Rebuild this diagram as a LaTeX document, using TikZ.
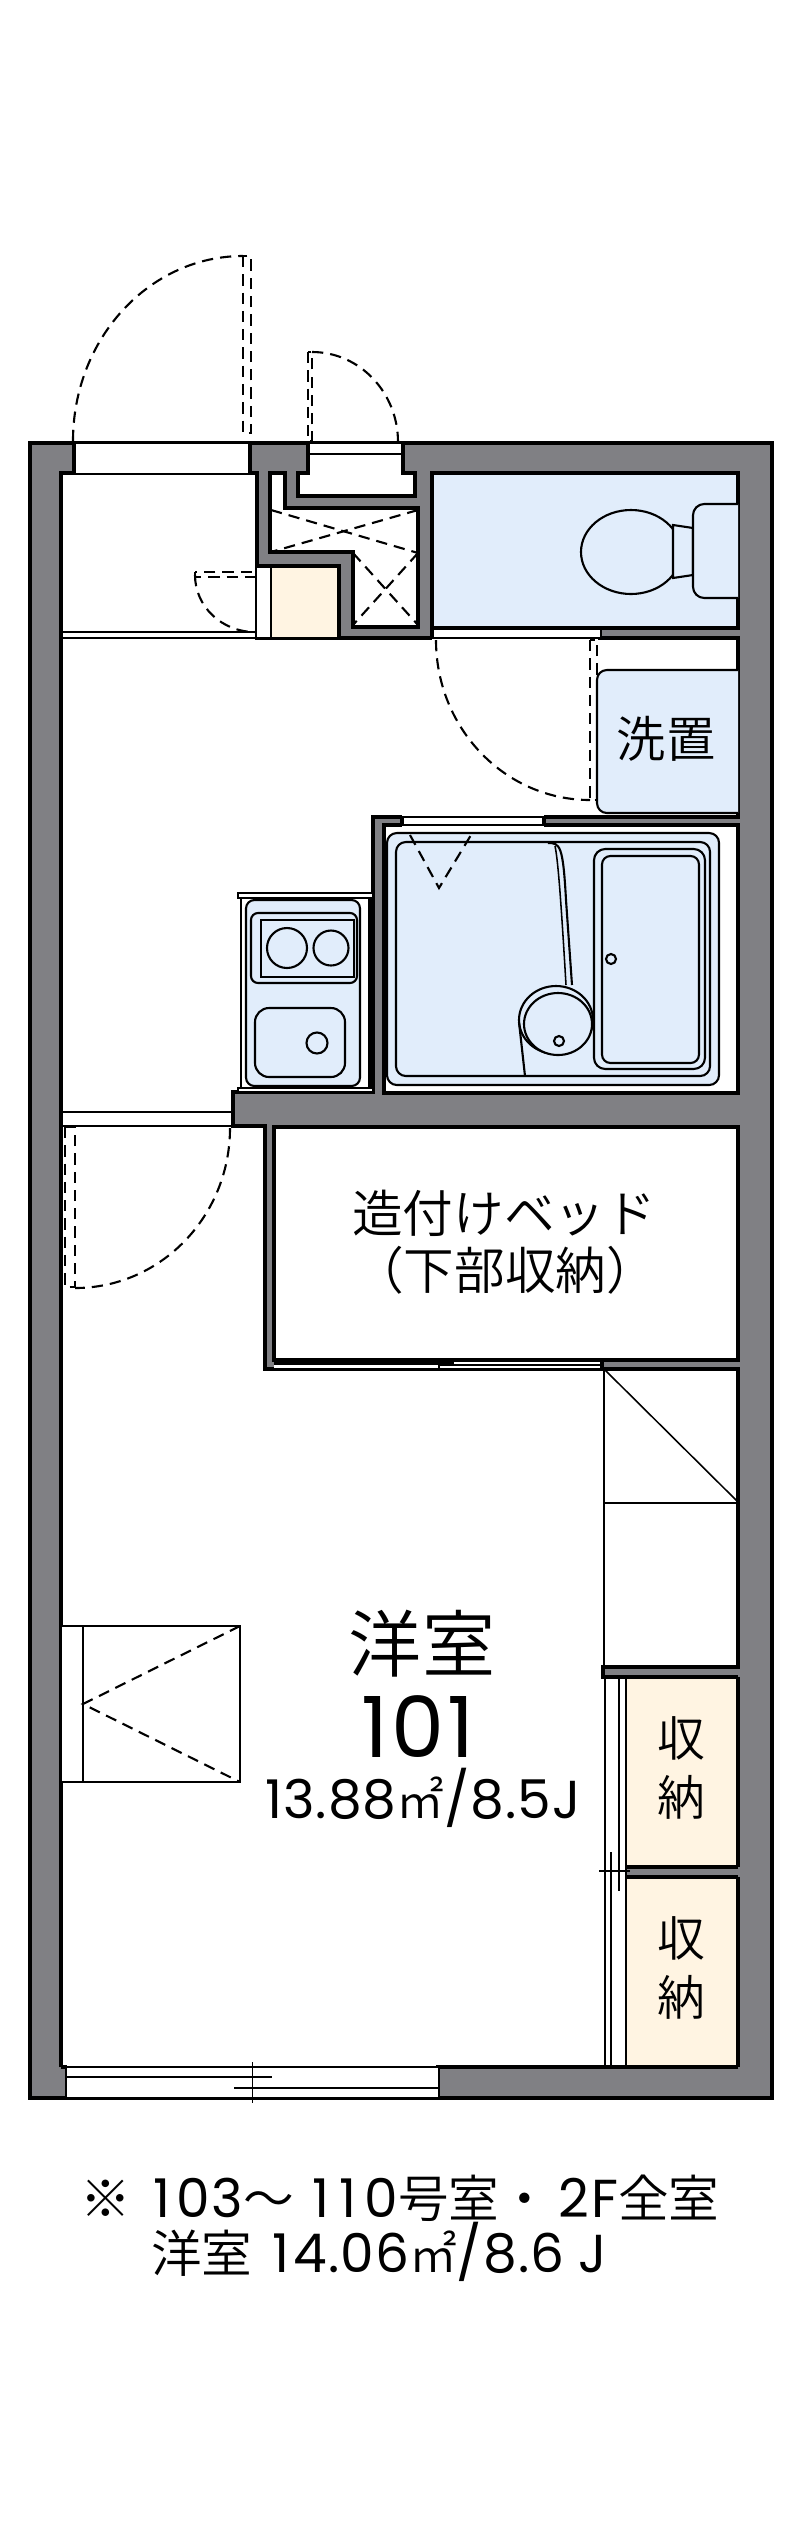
\documentclass[tikz,border=0pt]{standalone}
\usepackage{fontspec}
\setmainfont{Poppins}[LetterSpace=4]
\newfontfamily\cjk{Noto Sans CJK JP DemiLight}
\usepackage{tikz}

\definecolor{wallgray}{RGB}{128,128,132}
\definecolor{wetblue}{RGB}{225,237,251}
\definecolor{storecream}{RGB}{255,244,226}

\newcommand{\notecjk}[1]{{\cjk\fontsize{36}{40}\selectfont #1}}
\newcommand{\sqmeter}{{\cjk\fontsize{34}{40}\selectfont ㎡}}

\tikzset{
    wall/.style={line width=2.8pt, draw=black, line join=miter},
    thin line/.style={line width=1.1pt, draw=black},
    mid line/.style={line width=1.5pt, draw=black},
    door line/.style={line width=1.5pt, draw=black, dash pattern=on 8pt off 5pt},
    fixture/.style={line width=1.5pt, draw=black, fill=wetblue},
    label/.style={inner sep=0pt, align=center, font=\cjk},
}

\begin{document}
\begin{tikzpicture}[x=0.025cm, y=0.025cm, yscale=-1]

    \useasboundingbox (0, 0) rectangle (800, 2539);
    \fill[white] (0, 0) rectangle (800, 2539);

    \filldraw[wall, fill=wallgray] (30, 443) rectangle (772, 2098);

    \fill[white] (61, 473) -- (257, 473) -- (257, 638) -- (738, 638) -- (738, 817) -- (373, 817) -- (373, 1092)
        -- (233, 1092) -- (233, 1126) -- (265, 1126) -- (265, 1369) -- (738, 1369) -- (738, 1667) -- (603, 1667)
        -- (603, 1677) -- (626, 1677) -- (626, 2067) -- (61, 2067) -- cycle;
    \draw[wall] (61, 2067) -- (67, 2067);
    \draw[wall] (61, 2067) -- (61, 473) -- (257, 473) -- (257, 638) -- (432, 638);
    \draw[wall] (600, 628) -- (600, 638) -- (738, 638) -- (738, 817) -- (373, 817) -- (373, 1092) -- (233, 1092)
        -- (233, 1126) -- (265, 1126) -- (265, 1369) -- (738, 1369) -- (738, 1667) -- (603, 1667) -- (603, 1677) -- (738, 1677);
    \draw[wall] (738, 2067) -- (438, 2067) -- (438, 2099);
    \draw[wall] (67, 2067) -- (67, 2099);

    % entrance
    \fill[white] (74, 442) rectangle (250, 473);
    \draw[thin line] (74, 443) -- (250, 443);
    \draw[wall] (74, 442) -- (74, 473);
    \draw[wall] (250, 442) -- (250, 473);
    \draw[thin line] (61, 632) -- (257, 632);
    \draw[mid line] (61, 638) -- (257, 638);

    % meter box
    \filldraw[wall, fill=white] (308, 453) -- (403, 453) -- (403, 473) -- (415, 473) -- (415, 496) -- (298, 496)
        -- (298, 473) -- (308, 473) -- cycle;
    \fill[white] (308, 442) rectangle (403, 453);
    \draw[thin line] (308, 443) -- (403, 443);
    \draw[wall] (308, 442) -- (308, 453);
    \draw[wall] (403, 442) -- (403, 453);

    % shoe closet
    \filldraw[wall, fill=white] (270, 473) -- (285, 473) -- (285, 508) -- (418, 508) -- (418, 627) -- (353, 627)
        -- (353, 552) -- (270, 552) -- cycle;
    \draw[door line] (271, 510) -- (418, 553);
    \draw[door line] (418, 510) -- (271, 552);
    \draw[door line] (353, 553) -- (418, 625);
    \draw[door line] (418, 553) -- (353, 625);

    \fill[white] (257, 567) rectangle (271, 637);
    \fill[storecream] (271, 567) rectangle (339, 637);
    \draw[wall] (257, 566) -- (339, 566) -- (339, 638);
    \draw[thin line] (271, 567) -- (271, 637);

    % toilet
    \filldraw[wall, fill=wetblue] (432, 473) rectangle (738, 628);
    \fill[white] (432, 630) rectangle (600, 638);
    \draw[thin line] (432, 638) -- (600, 638);
    \draw[wall] (432, 473) -- (432, 638);
    \draw[fixture] (631, 552) circle[x radius=50, y radius=42];
    \draw[fixture] (673, 525) -- (693, 528) -- (693, 575) -- (673, 578) -- cycle;
    \draw[fixture, rounded corners=8] (738, 504) -- (693, 504) -- (693, 598) -- (738, 598);

    % washstand
    \draw[fixture, rounded corners=7] (738, 670) -- (597, 670) -- (597, 813) -- (738, 813);
    \node[label, font=\cjk\fontsize{35}{40}\selectfont] (wash) at (666, 739) {洗置};

    % bath
    \filldraw[wall, fill=white] (384, 825) rectangle (738, 1093);
    \fill[white] (402, 815) rectangle (544, 827);
    \draw[mid line] (402, 817) -- (544, 817);
    \draw[thin line] (402, 825) -- (544, 825);
    \draw[wall] (402, 816) -- (402, 825);
    \draw[wall] (544, 816) -- (544, 825);
    \draw[fixture, rounded corners=7] (387, 833) rectangle (719, 1085);
    \draw[fixture, rounded corners=7] (396, 842) rectangle (710, 1076);
    \draw[mid line] (548, 843) .. controls (560, 843) and (563, 845) .. (566, 900) -- (572, 985);
    \draw[thin line] (555, 846) .. controls (558, 860) and (561, 900) .. (566, 985);
    \draw[fixture] (556, 1020) circle[x radius=37, y radius=34];
    \draw[fixture] (558, 1024) circle[x radius=34, y radius=31];
    \draw[mid line] (519, 1022) -- (525, 1076);
    \draw[fixture] (559, 1041) circle[radius=5];
    \draw[fixture, rounded corners=8] (594, 849) rectangle (705, 1069);
    \draw[fixture, rounded corners=6] (602, 856) rectangle (699, 1063);
    \draw[fixture] (611, 959) circle[radius=5];
    \draw[door line] (410, 835) -- (439, 888) -- (471, 835);

    % kitchen
    \filldraw[thin line, fill=white] (241, 897) rectangle (371, 1088);
    \filldraw[mid line, fill=white] (238, 893) rectangle (373, 898);
    \filldraw[mid line, fill=white] (238, 1088) rectangle (373, 1092);
    \draw[fixture, rounded corners=6] (246, 900) rectangle (360, 1086);
    \draw[thin line] (369, 898) -- (369, 1088);
    \draw[fixture, rounded corners=5] (251, 913) rectangle (357, 983);
    \draw[fixture] (261, 920) rectangle (354, 977);
    \draw[fixture] (287, 948) circle[radius=20];
    \draw[fixture] (331, 948) circle[radius=17.5];
    \draw[fixture, rounded corners=10] (255, 1008) rectangle (345, 1077);
    \draw[fixture] (317, 1043) circle[radius=10.5];

    \draw[thin line] (61, 1112) -- (233, 1112);
    \draw[mid line] (61, 1126) -- (233, 1126);

    % built-in bed
    \filldraw[wall, fill=white] (274, 1127) rectangle (738, 1360);
    \fill[white] (274, 1362) rectangle (602, 1368);
    \draw[wall] (602, 1360) -- (602, 1369);
    \draw[wall] (274, 1363) -- (454, 1363);
    \draw[thin line] (439, 1365) -- (602, 1365);
    \draw[thin line] (439, 1358) -- (439, 1369);
    \node[label, font=\cjk\fontsize{36}{40}\selectfont] (bed) at (504, 1213) {造付けベッド};
    \node[label, font=\cjk\fontsize{36}{40}\selectfont] (drawer) at (505, 1270) {（下部収納）};

    % closet
    \draw[thin line] (604, 1369) -- (604, 1667);
    \draw[thin line] (604, 1369) -- (737, 1501);
    \draw[thin line] (604, 1503) -- (738, 1503);

    % storage
    \fill[storecream] (626, 1677) rectangle (738, 1867);
    \fill[storecream] (626, 1877) rectangle (738, 2067);
    \draw[wall] (626, 1867) -- (738, 1867);
    \draw[wall] (626, 1877) -- (738, 1877);
    \draw[wall] (738, 1677) -- (738, 1867);
    \draw[wall] (738, 1877) -- (738, 2067);
    \draw[wall] (603, 1677) -- (738, 1677);
    \draw[wall] (438, 2067) -- (738, 2067);
    \draw[thin line] (605, 1677) -- (605, 2067);
    \draw[thin line] (611, 1852) -- (611, 2067);
    \draw[thin line] (619, 1677) -- (619, 1891);
    \draw[thin line] (626, 1677) -- (626, 2067);
    \draw[thin line] (599, 1871) -- (630, 1871);
    \node[label, font=\cjk\fontsize{34}{40}\selectfont] (store a) at (681, 1768) {収\\[2pt]納};
    \node[label, font=\cjk\fontsize{34}{40}\selectfont] (store b) at (681, 1968) {収\\[2pt]納};

    % closet by the wall
    \filldraw[thin line, fill=white] (61, 1626) rectangle (240, 1782);
    \draw[thin line] (83, 1626) -- (83, 1782);
    \draw[door line] (240, 1626) -- (83, 1704) -- (240, 1782);

    % window
    \fill[white] (67, 2068) rectangle (438, 2098);
    \draw[mid line] (67, 2067) -- (438, 2067);
    \draw[mid line] (67, 2098) -- (438, 2098);
    \draw[mid line] (67, 2077) -- (272, 2077);
    \draw[mid line] (234, 2088) -- (438, 2088);
    \draw[thin line] (252.5, 2062) -- (252.5, 2103);

    % doors
    \draw[door line] (73, 441) arc[start angle=180, end angle=270, x radius=170, y radius=185];
    \draw[door line] (243, 256) rectangle (251, 433);
    \draw[door line] (312, 352) arc[start angle=270, end angle=360, x radius=86, y radius=90];
    \draw[door line] (308, 352) rectangle (312, 441);
    \draw[door line] (195, 575) arc[start angle=180, end angle=90, x radius=60, y radius=57];
    \draw[door line] (195, 572) rectangle (255, 577);
    \draw[door line] (436, 640) arc[start angle=180, end angle=90, x radius=154, y radius=160];
    \draw[door line] (590, 640) rectangle (597, 800);
    \draw[door line] (230, 1128) arc[start angle=0, end angle=90, x radius=155, y radius=160];
    \draw[door line] (65, 1127) rectangle (75, 1287);

    % room labels
    \node[label, font=\cjk\fontsize{52}{60}\selectfont] (room) at (422, 1644) {洋室};
    \node[label, font=\fontsize{60}{70}\selectfont, anchor=base] (number) at (418, 1757) {101};
    \node[label, font=\fontsize{38}{44}\selectfont\addfontfeature{LetterSpace=2}, anchor=base] (area) at (423, 1818) {13.88\sqmeter/8.5J};
    \node[label, font=\fontsize{38}{44}\selectfont, anchor=base west] (note a) at (80, 2217)
        {\notecjk{※}\kern16pt 1\kern4pt 03\notecjk{〜}\kern13pt 1\kern7pt 1\kern6pt 0\notecjk{号室・}\kern6pt 2F\notecjk{全室}};
    \node[label, font=\fontsize{38}{44}\selectfont\addfontfeature{LetterSpace=2}, anchor=base west] (note b) at (151, 2272)
        {\notecjk{洋室}\kern14pt 1\kern3pt 4.06\sqmeter/8.6\kern10pt J};

\end{tikzpicture}
\end{document}
